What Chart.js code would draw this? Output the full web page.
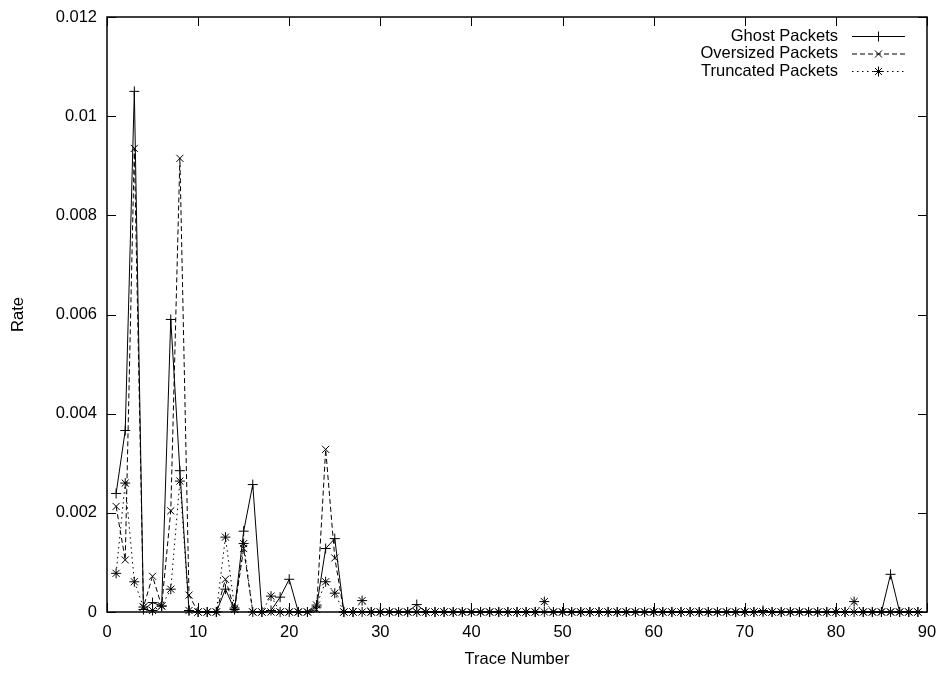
<!DOCTYPE html>
<html>
<head>
<meta charset="utf-8">
<script src="https://cdn.jsdelivr.net/npm/chart.js@4/dist/chart.umd.min.js"></script>
<style>
  body { margin: 0; background: #fff; }
  #wrap { width: 941px; height: 673px; }
</style>
</head>
<body>
<div id="wrap"><canvas id="rateChart" width="941" height="673"></canvas></div>
<script>
// trace numbers 1..89
const traces = [
  1, 2, 3, 4, 5, 6, 7, 8, 9, 10, 11, 12, 13, 14, 15, 16, 17, 18, 19, 20,
  21, 22, 23, 24, 25, 26, 27, 28, 29, 30, 31, 32, 33, 34, 35, 36, 37, 38, 39, 40,
  41, 42, 43, 44, 45, 46, 47, 48, 49, 50, 51, 52, 53, 54, 55, 56, 57, 58, 59, 60,
  61, 62, 63, 64, 65, 66, 67, 68, 69, 70, 71, 72, 73, 74, 75, 76, 77, 78, 79, 80,
  81, 82, 83, 84, 85, 86, 87, 88, 89
];

const ghost = [
  0.00239, 0.00366, 0.0105, 0.00005, 0.00019, 0.00012, 0.0059, 0.00285, 0.00003, 0,
  0, 0, 0.00046, 0.00005, 0.00163, 0.00257, 0, 0.00003, 0.0003, 0.00066,
  0, 0, 0.0001, 0.00128, 0.00148, 0, 0, 0, 0, 0,
  0, 0, 0, 0.00015, 0, 0, 0, 0, 0, 0,
  0, 0, 0, 0, 0, 0, 0, 0, 0, 0,
  0, 0, 0, 0, 0, 0, 0, 0, 0, 0,
  0, 0, 0, 0, 0, 0, 0, 0, 0, 0,
  0, 0.00003, 0, 0, 0, 0, 0, 0, 0, 0,
  0, 0, 0, 0, 0, 0.00076, 0, 0, 0
];

const oversized = [
  0.00213, 0.00105, 0.00935, 0.0001, 0.00072, 0.00012, 0.00204, 0.00915, 0.00034, 0,
  0, 0, 0.00066, 0.00005, 0.00128, 0, 0, 0, 0, 0,
  0, 0, 0.00005, 0.00328, 0.00109, 0, 0, 0, 0, 0,
  0, 0, 0, 0, 0, 0, 0, 0, 0, 0,
  0, 0, 0, 0, 0, 0, 0, 0, 0, 0,
  0, 0, 0, 0, 0, 0, 0, 0, 0, 0,
  0, 0, 0, 0, 0, 0, 0, 0, 0, 0,
  0, 0, 0, 0, 0, 0, 0, 0, 0, 0,
  0, 0, 0, 0, 0, 0, 0, 0, 0
];

const truncated = [
  0.00078, 0.0026, 0.00061, 0.0001, 0.00003, 0.00012, 0.00046, 0.00264, 0.00003, 0,
  0, 0, 0.00151, 0.00008, 0.00138, 0, 0, 0.00032, 0, 0,
  0, 0, 0.00014, 0.00061, 0.00038, 0, 0, 0.00023, 0, 0,
  0, 0, 0, 0, 0, 0, 0, 0, 0, 0,
  0, 0, 0, 0, 0, 0, 0, 0.00021, 0, 0,
  0, 0, 0, 0, 0, 0, 0, 0, 0, 0,
  0, 0, 0, 0, 0, 0, 0, 0, 0, 0,
  0, 0, 0, 0, 0, 0, 0, 0, 0, 0,
  0, 0.00021, 0, 0, 0, 0, 0, 0, 0
];

const FONT = 'Liberation Sans, Arial, Helvetica, sans-serif';
const FSIZE = 16.5;

function series(vals) {
  return traces.map((t, i) => ({ x: t, y: vals[i] }));
}

// gnuplot-like frame: box border plus inward ticks on all four sides
const framePlugin = {
  id: 'frame',
  afterDraw(chart) {
    const { ctx, chartArea: a, scales } = chart;
    const tl = 9;
    ctx.save();
    ctx.strokeStyle = '#000';
    ctx.lineWidth = 1;
    ctx.setLineDash([]);
    ctx.beginPath();
    scales.x.ticks.forEach(t => {
      const px = Math.round(scales.x.getPixelForValue(t.value)) + 0.5;
      ctx.moveTo(px, a.bottom); ctx.lineTo(px, a.bottom - tl);
      ctx.moveTo(px, a.top); ctx.lineTo(px, a.top + tl);
    });
    scales.y.ticks.forEach(t => {
      const py = Math.round(scales.y.getPixelForValue(t.value)) + 0.5;
      ctx.moveTo(a.left, py); ctx.lineTo(a.left + tl, py);
      ctx.moveTo(a.right, py); ctx.lineTo(a.right - tl, py);
    });
    ctx.stroke();
    ctx.lineWidth = 1.5;
    ctx.strokeRect(a.left, a.top, a.right - a.left, a.bottom - a.top);
    ctx.restore();
  }
};

// key in the top right corner, text right aligned, line sample with marker
const keyPlugin = {
  id: 'key',
  afterDraw(chart) {
    const ctx = chart.ctx;
    const a = chart.chartArea;
    const textRight = a.right - 89;
    const lineL = a.right - 75, lineR = a.right - 22;
    ctx.save();
    ctx.font = FSIZE + 'px ' + FONT;
    ctx.textAlign = 'right';
    ctx.textBaseline = 'middle';
    chart.data.datasets.forEach((ds, i) => {
      const y = a.top + 19 + i * 17.5;
      ctx.fillStyle = '#000';
      ctx.fillText(ds.label, textRight, y);
      ctx.strokeStyle = '#000';
      ctx.lineWidth = 1;
      ctx.setLineDash(ds.borderDash || []);
      ctx.beginPath();
      ctx.moveTo(lineL, y + 0.5);
      ctx.lineTo(lineR, y + 0.5);
      ctx.stroke();
      ctx.setLineDash([]);
      Chart.helpers.drawPoint(ctx, {
        pointStyle: ds.pointStyle, radius: ds.pointRadius, rotation: 0, borderWidth: 1
      }, (lineL + lineR) / 2, y + 0.5);
    });
    ctx.restore();
  }
};

const ctx = document.getElementById('rateChart').getContext('2d');

new Chart(ctx, {
  type: 'line',
  data: {
    datasets: [
      {
        label: 'Ghost Packets',
        data: series(ghost),
        borderColor: '#000',
        backgroundColor: '#000',
        borderWidth: 1,
        pointStyle: 'cross',
        pointRadius: 5,
        pointBorderWidth: 1,
        fill: false,
        clip: false,
      },
      {
        label: 'Oversized Packets',
        data: series(oversized),
        borderColor: '#000',
        backgroundColor: '#000',
        borderWidth: 1,
        borderDash: [5, 3],
        pointStyle: 'crossRot',
        pointRadius: 5,
        pointBorderWidth: 1,
        fill: false,
        clip: false,
      },
      {
        label: 'Truncated Packets',
        data: series(truncated),
        borderColor: '#000',
        backgroundColor: '#000',
        borderWidth: 1,
        borderDash: [1.5, 3.5],
        pointStyle: 'star',
        pointRadius: 5,
        pointBorderWidth: 1,
        fill: false,
        clip: false,
      },
    ],
  },
  options: {
    responsive: false,
    animation: false,
    events: [],
    layout: { padding: { left: 0, right: 14, top: 17, bottom: 0 } },
    plugins: {
      legend: { display: false },
      tooltip: { enabled: false },
    },
    scales: {
      x: {
        type: 'linear',
        min: 0,
        max: 90,
        ticks: { stepSize: 10, padding: 11, color: '#000', font: { family: FONT, size: FSIZE } },
        grid: { display: false, drawTicks: false },
        border: { display: false },
        title: { display: true, text: 'Trace Number', color: '#000', font: { family: FONT, size: FSIZE }, padding: { top: 4, bottom: 4 } },
        afterFit(scale) {
          scale.height = 61;
          scale.paddingLeft = 0;
          scale.paddingRight = 0;
        },
      },
      y: {
        min: 0,
        max: 0.012,
        ticks: {
          stepSize: 0.002,
          padding: 10,
          color: '#000',
          font: { family: FONT, size: FSIZE },
          callback: v => String(+v.toFixed(3)),
        },
        grid: { display: false, drawTicks: false },
        border: { display: false },
        title: { display: true, text: 'Rate', color: '#000', font: { family: FONT, size: FSIZE }, padding: { top: 9, bottom: 4 } },
        afterFit(scale) {
          scale.width = 107;
          scale.paddingTop = 0;
          scale.paddingBottom = 0;
        },
      },
    },
  },
  plugins: [framePlugin, keyPlugin],
});
</script>
</body>
</html>
